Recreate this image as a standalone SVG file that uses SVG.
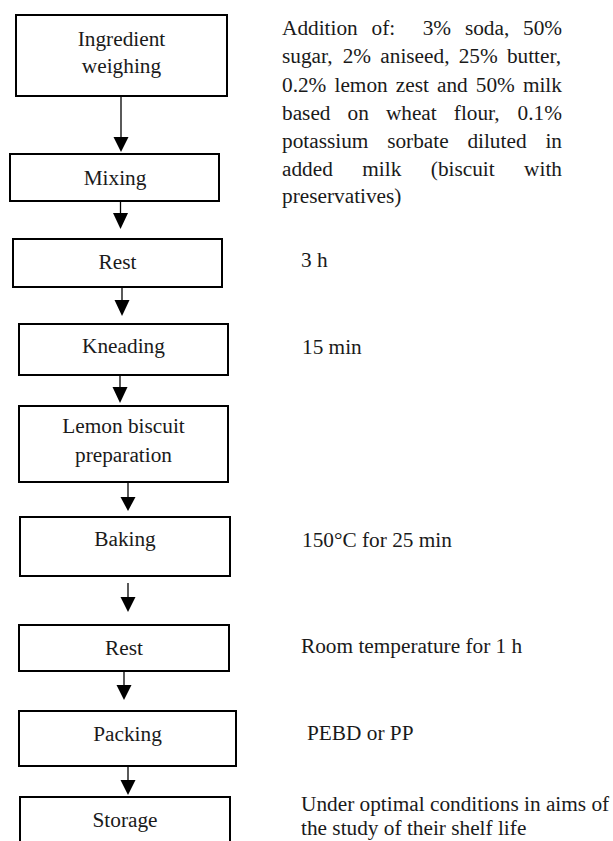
<svg xmlns="http://www.w3.org/2000/svg" width="613" height="841" viewBox="0 0 613 841">
<style>
.box{fill:#fff;stroke:#000;stroke-width:2}
text{font-family:'Liberation Serif','Times New Roman',Times,serif;font-size:21.3px;fill:#1a1a1a}
.c{text-anchor:middle}
.ln{stroke:#000;stroke-width:1.3;fill:none}
.hd{fill:#000}
</style>
<rect width="613" height="841" fill="#fff"/>
<g font-family="Liberation Serif, Times New Roman, serif">
<g id="n1"><rect class="box" x="16" y="15" width="211" height="81"/><text class="c" x="121.5" y="46">Ingredient</text><text class="c" x="121.5" y="73">weighing</text></g>
<g id="n2"><rect class="box" x="10" y="154" width="209" height="47"/><text class="c" x="115" y="185">Mixing</text></g>
<g id="n3"><rect class="box" x="13" y="239" width="209" height="48"/><text class="c" x="117.5" y="269">Rest</text></g>
<g id="n4"><rect class="box" x="19" y="324" width="209" height="51"/><text class="c" x="123.5" y="353">Kneading</text></g>
<g id="n5"><rect class="box" x="19" y="406" width="209" height="76"/><text class="c" x="123.5" y="433">Lemon biscuit</text><text class="c" x="123.5" y="462">preparation</text></g>
<g id="n6"><rect class="box" x="20" y="517" width="210" height="59"/><text class="c" x="125" y="546">Baking</text></g>
<g id="n7"><rect class="box" x="19" y="625" width="210" height="46"/><text class="c" x="124" y="655">Rest</text></g>
<g id="n8"><rect class="box" x="19" y="711" width="217" height="55"/><text class="c" x="127.5" y="741">Packing</text></g>
<g id="n9"><rect class="box" x="20" y="797" width="210" height="60"/><text class="c" x="125" y="827">Storage</text></g>
<g id="connectors">
<line class="ln" x1="121" y1="97" x2="121" y2="138"/><polygon class="hd" points="113.5,137 128.5,137 121,152"/>
<line class="ln" x1="120.5" y1="202" x2="120.5" y2="214"/><polygon class="hd" points="113,213 128,213 120.5,229"/>
<line class="ln" x1="122" y1="288" x2="122" y2="301"/><polygon class="hd" points="114.5,300 129.5,300 122,316"/>
<line class="ln" x1="120" y1="376" x2="120" y2="388"/><polygon class="hd" points="112.5,387 127.5,387 120,403"/>
<line class="ln" x1="128" y1="483" x2="128" y2="498"/><polygon class="hd" points="120.5,497 135.5,497 128,511"/>
<line class="ln" x1="128" y1="583" x2="128" y2="598"/><polygon class="hd" points="120.5,597 135.5,597 128,612"/>
<line class="ln" x1="124" y1="672" x2="124" y2="686"/><polygon class="hd" points="116.5,685 131.5,685 124,700"/>
<line class="ln" x1="128" y1="767" x2="128" y2="781"/><polygon class="hd" points="120.5,780 135.5,780 128,795"/>
</g>
<g id="notes">
<text y="35"><tspan x="282">Addition</tspan><tspan x="371.5">of:</tspan><tspan x="422.7">3%</tspan><tspan x="464.9">soda,</tspan><tspan x="523">50%</tspan></text>
<text y="63"><tspan x="282">sugar,</tspan><tspan x="342.7">2%</tspan><tspan x="380.3">aniseed,</tspan><tspan x="458.7">25%</tspan><tspan x="506.9">butter,</tspan></text>
<text y="92"><tspan x="282">0.2%</tspan><tspan x="334.5">lemon</tspan><tspan x="395.8">zest</tspan><tspan x="437">and</tspan><tspan x="475.8">50%</tspan><tspan x="522.9">milk</tspan></text>
<text y="120"><tspan x="282">based</tspan><tspan x="347.5">on</tspan><tspan x="385.9">wheat</tspan><tspan x="453.8">flour,</tspan><tspan x="517.6">0.1%</tspan></text>
<text y="148"><tspan x="282">potassium</tspan><tspan x="387.2">sorbate</tspan><tspan x="467.4">diluted</tspan><tspan x="545.4">in</tspan></text>
<text y="176"><tspan x="282">added</tspan><tspan x="362.3">milk</tspan><tspan x="430.8">(biscuit</tspan><tspan x="524.1">with</tspan></text>
<text x="282" y="203">preservatives)</text>
<text x="301" y="267">3 h</text>
<text x="302" y="354">15 min</text>
<text x="302" y="547">150°C for 25 min</text>
<text x="301" y="653">Room temperature for 1 h</text>
<text x="307" y="740">PEBD or PP</text>
<text x="301" y="811">Under optimal conditions in aims of</text>
<text x="301" y="835">the study of their shelf life</text>
</g>
</g>
</svg>
